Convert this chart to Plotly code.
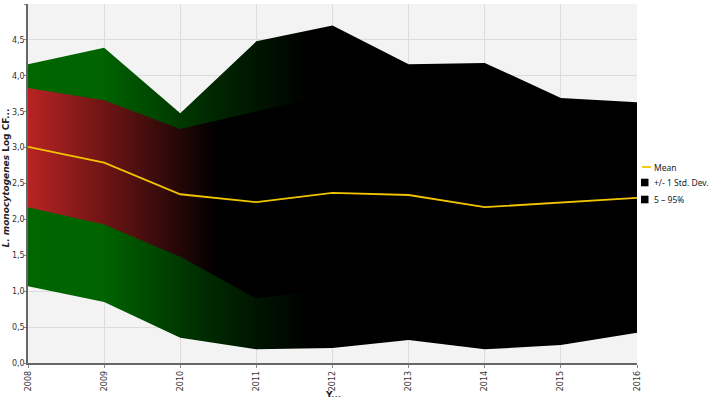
import plotly.graph_objects as go

years = [2008, 2009, 2010, 2011, 2012, 2013, 2014, 2015, 2016]
mean = [3.01, 2.79, 2.35, 2.24, 2.37, 2.34, 2.17, 2.23, 2.30]
std_upper = [3.83, 3.66, 3.26, 3.50, 3.75, 3.55, 3.45, 3.45, 3.50]
std_lower = [2.17, 1.93, 1.48, 0.90, 1.05, 1.10, 0.90, 1.00, 1.10]
p95 = [4.16, 4.39, 3.48, 4.48, 4.70, 4.16, 4.18, 3.69, 3.63]
p05 = [1.07, 0.85, 0.35, 0.19, 0.21, 0.32, 0.19, 0.25, 0.42]
y_ticks = [0, 0.5, 1, 1.5, 2, 2.5, 3, 3.5, 4, 4.5, 5]
legend_names = ["Mean", "+/- 1 Std. Dev.", "5 \u2013 95%"]

W, H = 709, 397
L, R, T, B = 28, 72, 4, 34
PW, PH = W - L - R, H - T - B


def px_x(p):
    return (p - L) / PW


def px_y(p):
    return (H - B - p) / PH


fig = go.Figure()

# 5-95% band
fig.add_trace(go.Scatter(
    x=years + years[::-1], y=p95 + p05[::-1], fill="toself", mode="lines",
    line=dict(width=0), showlegend=False, hoverinfo="skip",
    fillgradient=dict(type="horizontal",
                      colorscale=[[0, "rgb(0,102,0)"], [0.12, "rgb(0,100,0)"],
                                  [0.30, "rgb(0,40,0)"], [0.46, "rgb(0,0,0)"],
                                  [1, "rgb(0,0,0)"]]),
))
# +/- 1 std band
fig.add_trace(go.Scatter(
    x=years + years[::-1], y=std_upper + std_lower[::-1], fill="toself", mode="lines",
    line=dict(width=0), showlegend=False, hoverinfo="skip",
    fillgradient=dict(type="horizontal",
                      colorscale=[[0, "rgb(185,35,35)"], [0.31, "rgb(0,0,0)"],
                                  [1, "rgb(0,0,0)"]]),
))
fig.add_trace(go.Scatter(
    x=years, y=mean, mode="lines", name=legend_names[0], showlegend=False,
    line=dict(color="#f2c300", width=1.8),
))

# custom legend
leg_y = [167, 182.5, 199.5]
shapes = [
    dict(type="line", xref="paper", yref="paper", x0=px_x(642), x1=px_x(651),
         y0=px_y(leg_y[0]), y1=px_y(leg_y[0]), line=dict(color="#f2c300", width=1.8)),
    dict(type="rect", xref="paper", yref="paper", x0=px_x(641), x1=px_x(648.5),
         y0=px_y(leg_y[1] - 3.8), y1=px_y(leg_y[1] + 3.8), fillcolor="black",
         line=dict(width=0)),
    dict(type="rect", xref="paper", yref="paper", x0=px_x(641), x1=px_x(648.5),
         y0=px_y(leg_y[2] - 3.8), y1=px_y(leg_y[2] + 3.8), fillcolor="black",
         line=dict(width=0)),
]
annotations = [
    dict(text=name, xref="paper", yref="paper", x=px_x(652), y=px_y(yy),
         xanchor="left", yanchor="middle", showarrow=False,
         font=dict(family="Noto Sans", size=8.5, color="#222"))
    for name, yy in zip(legend_names, leg_y)
]
annotations += [
    dict(text="<b>Y...</b>", xref="paper", yref="paper", x=0.5, y=0,
         yshift=-25, xanchor="center", yanchor="top", showarrow=False,
         font=dict(size=9, color="#222")),
    dict(text="<b><i>L. monocytogenes</i> Log CF...</b>", xref="paper", yref="paper",
         x=0, y=0.5, yshift=5, xshift=-30, xanchor="left", yanchor="middle",
         textangle=-90, showarrow=False, font=dict(size=9, color="#222")),
]

fig.update_layout(
    width=W, height=H,
    margin=dict(l=L, r=R, t=T, b=B, autoexpand=False),
    paper_bgcolor="white", plot_bgcolor="#f3f3f3",
    font=dict(family="DejaVu Sans", size=8, color="#333"),
    separators=", ",
    showlegend=False,
    shapes=shapes,
    annotations=annotations,
    xaxis=dict(range=[2008, 2016], tickvals=years, ticktext=[str(y) for y in years],
               tickangle=-90, showgrid=True, gridcolor="#dcdcdc", gridwidth=1,
               showline=True, linecolor="#666", linewidth=1.5, ticks="outside",
               ticklen=3, tickcolor="#888", zeroline=False, automargin=False),
    yaxis=dict(range=[0, 5], tickvals=y_ticks, tickformat=".1f",
               showgrid=True, gridcolor="#dcdcdc", gridwidth=1,
               showline=True, linecolor="#666", linewidth=1.5, ticks="outside",
               ticklen=2, tickcolor="#888", zeroline=False, automargin=False,
               ticklabelstandoff=-2),
)

fig.write_html("out.html", config={"displayModeBar": False},
               post_script="document.body.style.margin='0';document.body.style.overflow='hidden';")
